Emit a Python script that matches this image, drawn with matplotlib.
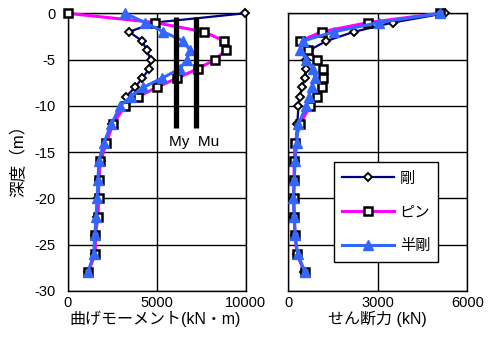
import matplotlib
matplotlib.use("Agg")
import matplotlib.pyplot as plt
from matplotlib.lines import Line2D

plt.rcParams['font.family'] = ['Liberation Sans', 'Noto Sans CJK JP', 'DejaVu Sans']
plt.rcParams['axes.unicode_minus'] = False

# ---- data ----
depth = [0, -1, -2, -3, -4, -5, -6, -7, -8, -9, -10, -12, -14, -16, -18, -20, -22, -24, -26, -28]

moment_rigid = [9950, 4900, 3450, 4190, 4440, 4660, 4580, 4190, 3780, 3280, 3180,
                2500, 2150, 1850, 1750, 1700, 1650, 1560, 1520, 1150]
moment_pin = [0, 4900, 7660, 8800, 8880, 8280, 7300, 6150, 5000, 3970, 3220,
              2530, 2170, 1830, 1740, 1740, 1700, 1550, 1550, 1140]
moment_semi = [3220, 4350, 5370, 6500, 6870, 6690, 6300, 5300, 4250, 3550, 2950,
               2450, 2030, 1750, 1700, 1650, 1590, 1520, 1460, 1140]

shear_rigid = [5250, 3500, 2200, 1270, 700, 600, 600, 560, 450, 390, 340,
               300, 250, 220, 200, 190, 200, 230, 280, 540]
shear_pin = [5085, 2680, 1120, 400, 650, 970, 1150, 1150, 1120, 950, 730,
             390, 220, 200, 190, 180, 200, 230, 290, 560]
shear_semi = [5100, 3030, 1530, 480, 390, 610, 840, 900, 780, 680, 610,
              335, 280, 225, 200, 170, 200, 225, 315, 560]

My = 6100
Mu = 7200
yield_line_depth = [-0.4, -12.4]

series_labels = ['剛', 'ピン', '半剛']
moment_ticks = [0, 5000, 10000]
shear_ticks = [0, 3000, 6000]
depth_ticks = [0, -5, -10, -15, -20, -25, -30]

# ---- styles ----
styles = [
    dict(color='#000080', lw=1.6, marker='D', ms=4.2, mfc='white', mec='black', mew=1.4),
    dict(color='#ff00ff', lw=2.2, marker='s', ms=6.0, mfc='white', mec='black', mew=1.8),
    dict(color='#3366ff', lw=2.2, marker='^', ms=6.5, mfc='#3366ff', mec='#3366ff', mew=1.0),
]

W, H = 495, 354
fig = plt.figure(figsize=(W / 100, H / 100), dpi=100)
ax_b = 291.0
ax_t = 13.3
ax1 = fig.add_axes([67.7 / W, (H - ax_b) / H, 178 / W, (ax_b - ax_t) / H])
ax2 = fig.add_axes([288.3 / W, (H - ax_b) / H, 179 / W, (ax_b - ax_t) / H])

for vals, st in zip([moment_rigid, moment_pin, moment_semi], styles):
    ax1.plot(vals, depth, clip_on=False, zorder=3, **st)
for vals, st in zip([shear_rigid, shear_pin, shear_semi], styles):
    ax2.plot(vals, depth, clip_on=False, zorder=3, **st)

ax1.plot([My, My], yield_line_depth, color='black', lw=3.8, zorder=4, solid_capstyle='butt')
ax1.plot([Mu, Mu], yield_line_depth, color='black', lw=3.8, zorder=4, solid_capstyle='butt')
ax1.text(5690, -13.9, 'My  Mu', ha='left', va='center', fontsize=11,
         family=['Liberation Sans', 'DejaVu Sans'])

for ax, xt, xl in [(ax1, moment_ticks, (0, 10000)), (ax2, shear_ticks, (0, 6000))]:
    ax.set_xlim(*xl)
    ax.set_ylim(-30, 0)
    ax.set_xticks(xt)
    ax.set_yticks(depth_ticks)
    ax.grid(True, color='black', lw=1.0)
    ax.set_axisbelow(True)
    for sp in ax.spines.values():
        sp.set_color('black')
        sp.set_linewidth(1.0)
    ax.tick_params(length=0, labelsize=10.5, pad=3.5)

ax1.tick_params(axis='y', pad=9)
ax2.tick_params(axis='y', labelleft=False)

fig.text(18 / W, 1 - 157 / H, '深度（m）', rotation=90, ha='center', va='center', fontsize=12)
fig.text(155 / W, 1 - 319 / H, '曲げモーメント(kN・m)', ha='center', va='center', fontsize=11.5)
fig.text(377 / W, 1 - 319 / H, 'せん断力 (kN)', ha='center', va='center', fontsize=11.5)

handles = [Line2D([], [], **st) for st in styles]
leg = fig.legend(handles, series_labels, loc='upper left',
                 bbox_to_anchor=(334 / W, 1 - 162 / H), bbox_transform=fig.transFigure,
                 borderaxespad=0, handlelength=3.4, handletextpad=0.4,
                 labelspacing=1.1, borderpad=0.5, fancybox=False, framealpha=1,
                 edgecolor='black', prop={'family': ['Noto Sans CJK JP', 'DejaVu Sans'], 'size': 11})
leg.get_frame().set_linewidth(1.0)

fig.savefig('out.png', dpi=100)
